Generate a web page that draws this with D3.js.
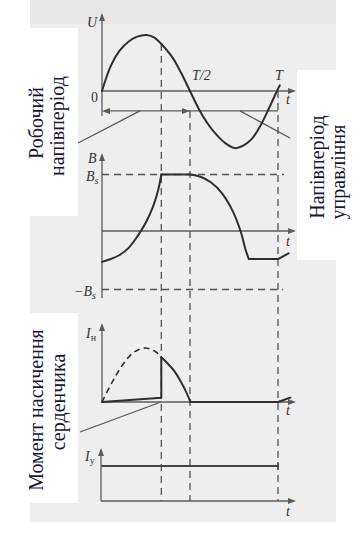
<!DOCTYPE html>
<html><head><meta charset="utf-8">
<script src="https://cdn.jsdelivr.net/npm/d3@7"></script>
<style>html,body{margin:0;padding:0;background:#fff;}svg{display:block;}
text{font-family:"Liberation Serif","DejaVu Serif","Noto Serif",serif;}</style>
</head><body>
<svg id="c" width="356" height="539"></svg>
<script>
// ---- data (t as fraction of period T) ----
const uT   = [0, 0.05, 0.1, 0.15, 0.2, 0.254, 0.3, 0.337, 0.4, 0.45, 0.5, 0.55, 0.6, 0.65, 0.7, 0.756, 0.8, 0.85, 0.9, 0.95, 1.0, 1.01];
const uVal = [0, 0.45, 0.72, 0.88, 0.97, 1.0, 0.95, 0.84, 0.6, 0.32, 0, -0.32, -0.58, -0.78, -0.93, -1.02, -0.98, -0.86, -0.62, -0.3, 0.04, 0.1];

const bRiseT   = [0, 0.05, 0.1, 0.15, 0.2, 0.25, 0.29, 0.32, 0.337];
const bRiseVal = [-0.52, -0.47, -0.40, -0.28, -0.08, 0.17, 0.44, 0.74, 1.0];
const bFallT   = [0.5, 0.56, 0.62, 0.68, 0.74, 0.789, 0.815, 0.834];
const bFallVal = [1.0, 0.96, 0.86, 0.68, 0.38, 0, -0.3, -0.47];
const bTailT   = [0.834, 1.0, 1.06];
const bTailVal = [-0.47, -0.47, -0.37];

const inDashT   = [0, 0.06, 0.12, 0.18, 0.246, 0.3, 0.337];
const inDashVal = [0, 0.38, 0.7, 0.92, 1.0, 0.94, 0.85];
const inLeakT   = [0, 0.337, 0.337];
const inLeakVal = [0, 0.08, 0.83];
const inFallT   = [0.337, 0.407, 0.464, 0.503];
const inFallVal = [0.83, 0.59, 0.28, 0];
const inTailT   = [0.503, 1.0, 1.07];
const inTailVal = [0, 0, 0.08];

const iyT   = [0, 1.0];
const iyVal = [1, 1];

const guideT     = [0.337, 0.5, 1.0];      // saturation moment, T/2, T
const guideStart = [0.84, -0.355, 0];      // U value where each guide begins
const halfArrowU = -0.355;

const leftLabel1  = ["Робочий", "напівперіод"];
const rightLabel  = ["Напівперіод", "управління"];
const leftLabel2  = ["Момент насичення", "серденчика"];

// ---- layout ----
const svg = d3.select("#c");
const x  = d3.scaleLinear().domain([0, 1]).range([102, 278]);
const yU = d3.scaleLinear().domain([-1, 1]).range([147, 35]);
const yB = d3.scaleLinear().domain([-1, 1]).range([289.5, 174.5]);
const yI = d3.scaleLinear().domain([0, 1]).range([402, 348]);
const yY = d3.scaleLinear().domain([0, 1]).range([501, 466]);

const axisCol = "#5c5c5c", curveCol = "#2e2e2e", dashCol = "#555";
const textCol = "#16163c";

// background (scanned page)
svg.append("rect").attr("x", 30).attr("y", 0).attr("width", 306).attr("height", 522).attr("fill", "#eeeeee");
svg.append("rect").attr("x", 30).attr("y", 0).attr("width", 306).attr("height", 24).attr("fill", "#e7e7e7");

// label boxes
svg.append("rect").attr("x", 0).attr("y", 28).attr("width", 78).attr("height", 188).attr("fill", "#fff");
svg.append("rect").attr("x", 0).attr("y", 313).attr("width", 78).attr("height", 190).attr("fill", "#fff");
svg.append("rect").attr("x", 297).attr("y", 70).attr("width", 59).attr("height", 190).attr("fill", "#fff");

function zip(ts, vs){ return ts.map((t,i)=>[t, vs[i]]); }
function path(data, ys, curve, opts){
  const ln = d3.line().x(d=>x(d[0])).y(d=>ys(d[1])).curve(curve);
  const p = svg.append("path").attr("d", ln(data)).attr("fill", "none")
    .attr("stroke", opts.color || curveCol).attr("stroke-width", opts.w || 2)
    .attr("stroke-linejoin", "round").attr("stroke-linecap", "round");
  if (opts.dash) p.attr("stroke-dasharray", opts.dash).attr("stroke-linecap", "butt");
  return p;
}
function arrowHead(px, py, dir){
  let pts;
  const L = 8, W = 3;
  if (dir === "up") pts = [[px, py], [px-W, py+L], [px+W, py+L]];
  if (dir === "right") pts = [[px, py], [px-L, py-W], [px-L, py+W]];
  if (dir === "left") pts = [[px, py], [px+L, py-W], [px+L, py+W]];
  svg.append("path").attr("d", "M" + pts.map(p=>p.join(",")).join("L") + "Z").attr("fill", axisCol);
}
function hline(x1, x2, y, col, w, dash){
  const l = svg.append("line").attr("x1", x1).attr("x2", x2).attr("y1", y).attr("y2", y)
    .attr("stroke", col).attr("stroke-width", w);
  if (dash) l.attr("stroke-dasharray", dash);
}
function vline(xx, y1, y2, col, w, dash){
  const l = svg.append("line").attr("x1", xx).attr("x2", xx).attr("y1", y1).attr("y2", y2)
    .attr("stroke", col).attr("stroke-width", w);
  if (dash) l.attr("stroke-dasharray", dash);
}
function axes(ax, top, bottom, zeroY){
  vline(ax, top + 2, bottom, axisCol, 1.3);
  arrowHead(ax, top, "up");
  hline(ax, 294, zeroY, axisCol, 1.3);
  arrowHead(296, zeroY, "right");
}

// axes
axes(x(0), 13, 116, yU(0));
axes(x(0), 153, 298, yB(0) - 1);
axes(x(0), 323, yI(0), yI(0));
axes(x(0) - 1, 448, yY(0), yY(0));

// guide dashed lines
guideT.forEach((t, i) => vline(x(t), yU(guideStart[i]), yY(0), dashCol, 1.3, "7,5"));
hline(x(0), 284, yB(1), dashCol, 1.3, "7,5");
hline(x(0), 283, yB(-1), dashCol, 1.3, "7,5");

// half-period arrow
hline(x(0) + 2, x(1), yU(halfArrowU), axisCol, 1.3);
arrowHead(x(0), yU(halfArrowU), "left");
arrowHead(x(0.5), yU(halfArrowU), "right");

// pointer lines from labels
const pointerCol = "#555";
[[[-0.136, -0.93], [0.216, halfArrowU], yU], [[0.784, halfArrowU], [1.068, -0.84], yU], [[-0.125, -0.556], [0.335, 0], yI]]
  .forEach(([a, b, ys]) => svg.append("line").attr("x1", x(a[0])).attr("y1", ys(a[1]))
    .attr("x2", x(b[0])).attr("y2", ys(b[1])).attr("stroke", pointerCol).attr("stroke-width", 1.2));

// curves
path(zip(uT, uVal), yU, d3.curveCatmullRom, {});
path(zip(bRiseT, bRiseVal), yB, d3.curveCatmullRom, {});
path([[bRiseT[bRiseT.length-1], 1], [bFallT[0], 1]], yB, d3.curveLinear, {});
path(zip(bFallT, bFallVal), yB, d3.curveCatmullRom, {});
path(zip(bTailT, bTailVal), yB, d3.curveLinear, {});
path(zip(inDashT, inDashVal), yI, d3.curveCatmullRom, {dash: "6,4", w: 1.6});
path(zip(inLeakT, inLeakVal), yI, d3.curveLinear, {});
path(zip(inFallT, inFallVal), yI, d3.curveCatmullRom, {});
path(zip(inTailT, inTailVal), yI, d3.curveLinear, {});
path(zip(iyT, iyVal), yY, d3.curveLinear, {w: 1.8, color: "#444"});
vline(x(iyT[1]), yY(1) - 4, yY(1) + 4, "#444", 1.3);

// math labels
function lab(tx, ty, main, sub, italicSub){
  const t = svg.append("text").attr("x", tx).attr("y", ty)
    .attr("font-size", 14).attr("fill", "#333").attr("font-style", "italic").text(main);
  if (sub) t.append("tspan").attr("font-size", 10).attr("dy", 3)
    .attr("font-style", italicSub ? "italic" : "normal").text(sub);
}
lab(87, 27, "U");
svg.append("text").attr("x", 91).attr("y", 102).attr("font-size", 14).attr("fill", "#333").text("0");
lab(192, 80, "T/2");
lab(275, 80, "T");
[104, 246, 415, 516].forEach(b => lab(286, b, "t"));
lab(88, 163, "B");
lab(86, 181, "B", "s", true);
lab(74, 296, "−B", "s", true);
lab(86, 338, "I", "н", false);
lab(85, 461, "I", "y", false);

// rotated labels
function rot(lines, cxs, cys){
  lines.forEach((s, i) => svg.append("text")
    .attr("transform", `translate(${cxs[i]},${cys[i]}) rotate(-90)`)
    .attr("text-anchor", "middle").attr("dominant-baseline", "central")
    .attr("font-size", 20).attr("fill", textCol).text(s));
}
rot(leftLabel1, [36, 57], [123, 126]);
rot(rightLabel, [317, 338], [167, 172]);
rot(leftLabel2, [36, 58], [410, 402]);
</script>
</body></html>
